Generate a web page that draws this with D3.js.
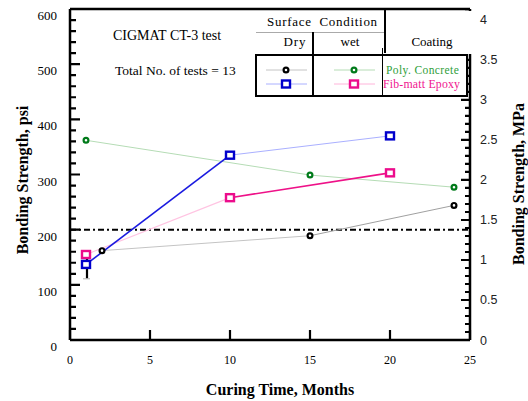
<!DOCTYPE html>
<html>
<head>
<meta charset="utf-8">
<script src="https://cdn.jsdelivr.net/npm/d3@7"></script>
<style>
  body { margin: 0; background: #fff; }
  .serif { font-family: 'Liberation Serif', 'Times New Roman', serif; }
  .sans { font-family: 'Liberation Sans', Arial, sans-serif; }
</style>
</head>
<body>
<div class="chart"></div>
<script>
// values
const dryPolyMonths = [2, 15, 24];
const dryPolyPsi = [162, 189, 244];
const wetPolyMonths = [1, 15, 24];
const wetPolyPsi = [362, 299, 277];
const dryEpoxyMonths = [1, 10, 20];
const dryEpoxyPsi = [137, 335, 370];
const dryEpoxyErr = [26, 0, 0];
const wetEpoxyMonths = [1, 10, 20];
const wetEpoxyPsi = [155, 258, 303];
const limitPsi = 200;

const xTicks = [0, 5, 10, 15, 20, 25];
const psiTicks = [0, 100, 200, 300, 400, 500, 600];
const mpaTicks = [0, 0.5, 1, 1.5, 2, 2.5, 3, 3.5, 4];
const mpaLabels = ['0', '0.5', '1', '1.5', '2', '2.5', '3', '3.5', '4'];
const psiPerMpa = 145.04;

const width = 528, height = 401;
const margin = { top: 9, right: 58, bottom: 61, left: 70 };
const chart_width = width - margin.left - margin.right;
const chart_height = height - margin.top - margin.bottom;

const svg = d3.select('.chart').append('svg')
  .attr('width', width).attr('height', height);

const x = d3.scaleLinear().domain([0, 25]).range([0, chart_width]);
const y = d3.scaleLinear().domain([0, 600]).range([chart_height, 0]);
const y2 = d3.scaleLinear().domain([0, 600 / psiPerMpa]).range([chart_height, 0]);

const g = svg.append('g')
  .attr('transform', 'translate(' + margin.left + ',' + margin.top + ')');

// series: data from arrays, styles kept apart
const series = [
  { months: dryPolyMonths, psi: dryPolyPsi, shape: 'circle', color: '#000',
    segs: [['#c4c4c4', 1], ['#a0a0a0', 1]], key: '#c4c4c4' },
  { months: wetPolyMonths, psi: wetPolyPsi, shape: 'circle', color: '#007a1a',
    segs: [['#b5dcb5', 1], ['#b5dcb5', 1]], key: '#b5dcb5' },
  { months: wetEpoxyMonths, psi: wetEpoxyPsi, shape: 'square', color: '#ec0c8c',
    segs: [['#ffc4e2', 1.2], ['#ee1188', 1.6]], key: '#ffb4da' },
  { months: dryEpoxyMonths, psi: dryEpoxyPsi, shape: 'square', color: '#0000cc', err: dryEpoxyErr,
    segs: [['#1a1ae0', 1.6], ['#aab0ff', 1]], key: '#aab0ff' }
];

// frame
const frame = g.append('g').attr('class', 'frame');
[[0, 0, chart_width, 0], [0, chart_height, chart_width, chart_height],
 [0, 0, 0, chart_height], [chart_width, 0, chart_width, chart_height]].forEach(p => {
  frame.append('line').attr('x1', p[0]).attr('y1', p[1]).attr('x2', p[2]).attr('y2', p[3])
    .attr('stroke', '#000').attr('stroke-width', 2.5);
});

// tick marks, drawn inward
const minorPsi = d3.range(0, 601, 20);
const minorMpa = d3.range(0, 42).map(d => d / 10);
let tickPath = d3.path();
minorPsi.forEach(v => {
  tickPath.moveTo(0, y(v));
  tickPath.lineTo(v % 100 === 0 ? 10 : 6, y(v));
});
minorMpa.forEach((v, i) => {
  tickPath.moveTo(chart_width, y2(v));
  tickPath.lineTo(chart_width - (i % 5 === 0 ? 9 : 5), y2(v));
});
xTicks.forEach(v => {
  tickPath.moveTo(x(v), chart_height);
  tickPath.lineTo(x(v), chart_height - 10);
});
g.append('path').attr('d', tickPath.toString())
  .attr('fill', 'none').attr('stroke', '#000').attr('stroke-width', 2.2);

// tick labels
g.selectAll('.xlab').data(xTicks).enter().append('text')
  .attr('class', 'serif').attr('x', d => x(d)).attr('y', chart_height + 24)
  .attr('text-anchor', 'middle').style('font-size', '12px').text(d => d);
g.selectAll('.ylab').data(psiTicks).enter().append('text')
  .attr('class', 'serif').attr('x', -13).attr('y', d => y(d) + 11)
  .attr('text-anchor', 'end').style('font-size', '13px').text(d => d);
g.selectAll('.y2lab').data(mpaTicks).enter().append('text')
  .attr('class', 'sans').attr('x', chart_width + 10).attr('y', d => y2(d) + 4.5)
  .style('font-size', '12.5px').attr('fill', '#222').text((d, i) => mpaLabels[i]);

// 200 psi reference line
g.append('line')
  .attr('x1', 0).attr('x2', chart_width)
  .attr('y1', y(limitPsi)).attr('y2', y(limitPsi))
  .attr('stroke', '#000').attr('stroke-width', 2)
  .attr('stroke-dasharray', '6,3,2,3');

// segments
series.forEach(s => {
  for (let i = 0; i < s.months.length - 1; i++) {
    g.append('line')
      .attr('x1', x(s.months[i])).attr('y1', y(s.psi[i]))
      .attr('x2', x(s.months[i + 1])).attr('y2', y(s.psi[i + 1]))
      .attr('stroke', s.segs[i][0]).attr('stroke-width', s.segs[i][1]);
  }
});

// error bar
series.filter(s => s.err).forEach(s => {
  s.err.forEach((e, i) => {
    if (!e) return;
    g.append('line')
      .attr('x1', x(s.months[i]) + 1).attr('x2', x(s.months[i]) + 1)
      .attr('y1', y(s.psi[i] - e)).attr('y2', y(s.psi[i] + e))
      .attr('stroke', '#000').attr('stroke-width', 2.2);
    g.append('line')
      .attr('x1', x(s.months[i]) - 3).attr('x2', x(s.months[i]) + 4)
      .attr('y1', y(s.psi[i] - e)).attr('y2', y(s.psi[i] - e))
      .attr('stroke', '#bbb').attr('stroke-width', 1.2);
  });
});

function marker(sel, shape, color, cx, cy) {
  if (shape === 'circle') {
    sel.append('circle').attr('cx', cx).attr('cy', cy).attr('r', 2.4)
      .attr('fill', '#fff').attr('stroke', color).attr('stroke-width', 2.2);
  } else {
    sel.append('rect').attr('x', cx - 4).attr('y', cy - 3.5).attr('width', 8).attr('height', 7)
      .attr('fill', '#fff').attr('stroke', color).attr('stroke-width', 2.4);
  }
}

series.forEach(s => {
  s.months.forEach((m, i) => marker(g, s.shape, s.color, x(m), y(s.psi[i])));
});

// annotations
svg.append('text').attr('class', 'serif').attr('x', 113).attr('y', 40)
  .style('font-size', '14px').text('CIGMAT CT-3 test');
svg.append('text').attr('class', 'serif').attr('x', 115).attr('y', 75)
  .style('font-size', '13.5px').text('Total No. of tests = 13');

// legend table header
svg.append('rect').attr('x', 255).attr('y', 11).attr('width', 218).attr('height', 43).attr('fill', '#fff');
svg.append('text').attr('class', 'serif').attr('x', 267).attr('y', 26)
  .style('font-size', '13px').style('letter-spacing', '0.7px').attr('xml:space', 'preserve')
  .text('Surface  Condition');
svg.append('line').attr('x1', 256).attr('x2', 385).attr('y1', 32.5).attr('y2', 32.5)
  .attr('stroke', '#aaa').attr('stroke-width', 1);
svg.append('line').attr('x1', 385).attr('x2', 385).attr('y1', 9).attr('y2', 53)
  .attr('stroke', '#000').attr('stroke-width', 2);
svg.append('line').attr('x1', 313).attr('x2', 313).attr('y1', 32).attr('y2', 97)
  .attr('stroke', '#000').attr('stroke-width', 2);
svg.append('text').attr('class', 'serif').attr('x', 295).attr('y', 46).attr('text-anchor', 'middle')
  .style('font-size', '13px').style('letter-spacing', '1px').text('Dry');
svg.append('text').attr('class', 'serif').attr('x', 350).attr('y', 46).attr('text-anchor', 'middle')
  .style('font-size', '13px').text('wet');
svg.append('text').attr('class', 'serif').attr('x', 432).attr('y', 46).attr('text-anchor', 'middle')
  .style('font-size', '13px').text('Coating');

// legend box
svg.append('rect').attr('x', 256).attr('y', 55).attr('width', 211).attr('height', 41)
  .attr('fill', '#fff').attr('stroke', '#000').attr('stroke-width', 2);
svg.append('line').attr('x1', 313).attr('x2', 313).attr('y1', 55).attr('y2', 96)
  .attr('stroke', '#000').attr('stroke-width', 2);
svg.append('line').attr('x1', 382.5).attr('x2', 382.5).attr('y1', 48).attr('y2', 96)
  .attr('stroke', '#000').attr('stroke-width', 1);

const legendRows = [
  [series[0], 266, 70], [series[1], 334, 70],
  [series[3], 266, 84], [series[2], 334, 84]
];
legendRows.forEach(([s, lx, ly]) => {
  svg.append('line').attr('x1', lx).attr('x2', lx + 41).attr('y1', ly).attr('y2', ly)
    .attr('stroke', s.key).attr('stroke-width', 1);
  marker(svg, s.shape, s.color, lx + 20, ly);
});
svg.append('text').attr('class', 'serif').attr('x', 386).attr('y', 74)
  .style('font-size', '11.5px').style('letter-spacing', '0.4px').attr('fill', '#2f9e3a').text('Poly. Concrete');
svg.append('text').attr('class', 'serif').attr('x', 383).attr('y', 88)
  .style('font-size', '11.8px').style('letter-spacing', '0.2px').attr('fill', '#f0158f').text('Fib-matt Epoxy');

// axis titles
svg.append('text').attr('class', 'serif').attr('x', 280).attr('y', 395).attr('text-anchor', 'middle')
  .style('font-size', '16px').style('font-weight', 'bold').text('Curing Time, Months');
svg.append('text').attr('class', 'serif')
  .attr('transform', 'translate(28,180) rotate(-90)').attr('text-anchor', 'middle')
  .style('font-size', '16px').style('font-weight', 'bold').text('Bonding Strength, psi');
svg.append('text').attr('class', 'serif')
  .attr('transform', 'translate(524,184) rotate(-90)').attr('text-anchor', 'middle')
  .style('font-size', '16px').style('font-weight', 'bold').text('Bonding Strength, MPa');
</script>
</body>
</html>
